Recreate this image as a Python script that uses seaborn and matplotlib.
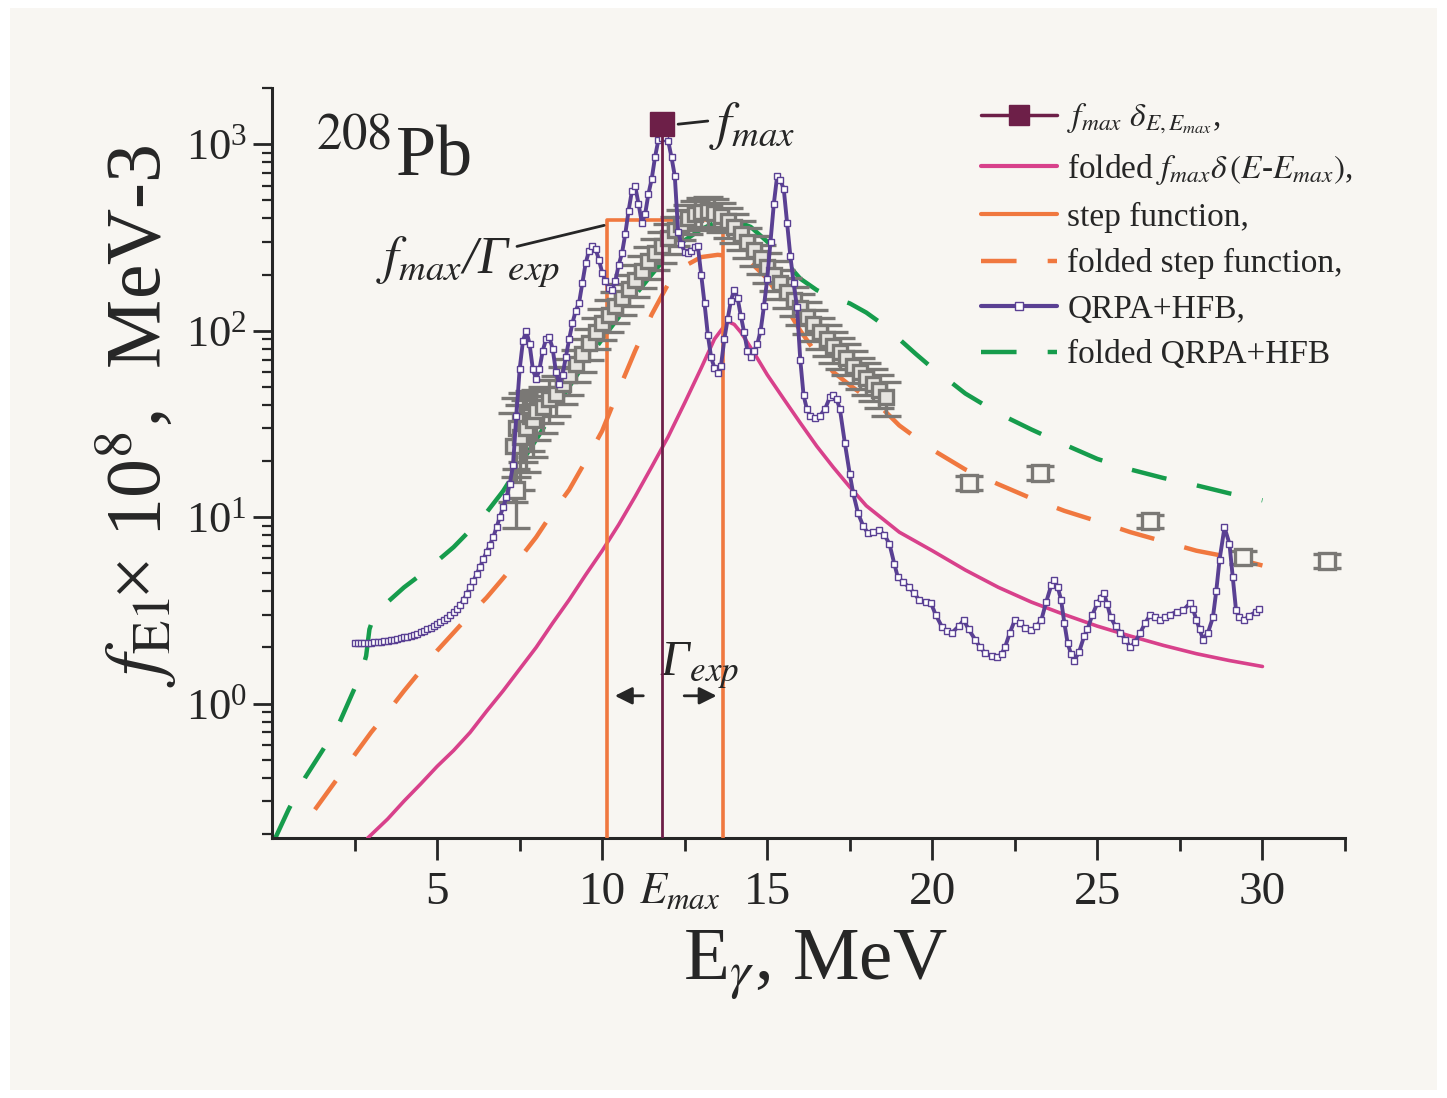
import numpy as np
import pandas as pd
import matplotlib
matplotlib.use("Agg")
import matplotlib.pyplot as plt
import seaborn as sns
from matplotlib.lines import Line2D
from matplotlib.patches import Rectangle
from matplotlib.ticker import FixedLocator, NullFormatter

sns.set_theme(style="ticks")
plt.rcParams["font.family"] = ["Liberation Serif", "DejaVu Serif"]
plt.rcParams["mathtext.fontset"] = "stix"

# ---- data (E in MeV, f_E1 x 1e8 in MeV^-3) ----
E_max = 11.8
f_max = 1280

step_E = [10.15, 10.15, 13.67, 13.67]
step_f = [0.01, 390, 390, 0.01]

pink_E = [2.9, 3.5, 4.0, 4.5, 5.0, 5.5, 6.0, 6.5, 7.0, 7.5, 8.0, 8.5, 9.0, 9.5, 10.0,
          10.5, 11.0, 11.5, 12.0, 12.5, 13.0, 13.4, 13.8, 14.0, 14.2, 14.6, 15.0, 15.5,
          16.0, 16.5, 17.0, 17.5, 18.0, 19.0, 20.0, 21.0, 22.0, 23.0, 24.0, 25.0, 26.0,
          27.0, 28.0, 29.0, 30.0]
pink_f = [0.19, 0.24, 0.30, 0.37, 0.46, 0.56, 0.70, 0.91, 1.17, 1.53, 2.0, 2.7, 3.6, 4.9, 6.6,
          9.1, 12.9, 18.6, 27, 41, 63, 90, 112, 108, 98, 76, 58, 43,
          32, 24, 18.5, 14.5, 11.5, 8.3, 6.6, 5.2, 4.2, 3.5, 3.0, 2.6, 2.3,
          2.05, 1.85, 1.7, 1.58]

fstep_E = [1.3, 2.0, 2.5, 3.0, 3.5, 4.0, 4.5, 5.0, 5.5, 6.0, 6.5, 7.0, 7.5, 8.0, 8.5, 9.0,
           9.5, 10.0, 10.5, 11.0, 11.5, 12.0, 12.5, 13.0, 13.5, 14.0, 14.5, 15.0, 15.5,
           16.0, 16.5, 17.0, 17.5, 18.0, 18.5, 19.0, 20.0, 21.0, 22.0, 23.0, 24.0, 25.0,
           26.0, 27.0, 28.0, 29.0, 30.0]
fstep_f = [0.27, 0.40, 0.53, 0.70, 0.90, 1.17, 1.5, 1.92, 2.4, 3.0, 3.7, 4.7, 6.0, 7.8, 10.6, 14,
           20, 29, 48, 78, 122, 178, 222, 248, 255, 250, 232, 190, 140,
           100, 75, 60, 51, 44, 38, 31, 23, 18, 15, 12.6, 10.8, 9.5,
           8.3, 7.4, 6.6, 6.1, 5.5]

fqrpa_E = [0.1, 0.5, 1.0, 1.5, 2.0, 2.4, 2.7, 2.85, 2.95, 3.1, 3.5, 4.0, 4.5, 5.0, 5.5, 6.0,
           6.5, 7.0, 7.5, 8.0, 8.5, 9.0, 9.5, 10.0, 10.5, 11.0, 11.5, 12.0, 12.5, 13.0,
           13.5, 14.0, 14.5, 15.0, 15.5, 16.0, 16.5, 17.0, 17.5, 18.0, 18.5, 19.0, 19.5,
           20.0, 20.5, 21.0, 22.0, 23.0, 24.0, 25.0, 26.0, 27.0, 28.0, 29.0, 30.0]
fqrpa_f = [0.19, 0.27, 0.40, 0.55, 0.76, 1.1, 1.45, 1.8, 2.5, 3.0, 3.5, 4.2, 4.9, 5.8, 6.9, 8.5,
           10.6, 13.8, 19, 26, 36, 50, 68, 90, 118, 155, 200, 255, 305, 350,
           385, 390, 360, 300, 240, 190, 165, 150, 140, 125, 108, 90, 75,
           63, 54, 46, 36, 29.5, 24.5, 20.5, 18, 16.2, 14.8, 13.4, 12.3]

qrpa_E = [2.5, 2.6, 2.7, 2.8, 2.9, 3.0, 3.1, 3.2, 3.3, 3.4, 3.5, 3.6, 3.7, 3.8, 3.9, 4.0,
          4.1, 4.2, 4.3, 4.4, 4.5, 4.6, 4.7, 4.8, 4.9, 5.0, 5.1, 5.2, 5.3, 5.4, 5.5, 5.6,
          5.7, 5.8, 5.9, 6.0, 6.1, 6.2, 6.3, 6.4, 6.5, 6.6, 6.7, 6.8, 6.9, 7.0, 7.1, 7.2,
          7.3, 7.4, 7.5, 7.6, 7.7, 7.8, 7.9, 8.0, 8.1, 8.2, 8.3, 8.4, 8.5, 8.6, 8.7, 8.8,
          8.9, 9.0, 9.1, 9.2, 9.3, 9.4, 9.5, 9.6, 9.7, 9.8, 9.9, 10.0, 10.1, 10.2, 10.3,
          10.4, 10.5, 10.6, 10.7, 10.8, 10.9, 11.0, 11.1, 11.2, 11.3, 11.4, 11.5, 11.6,
          11.7, 11.8, 11.9, 12.0, 12.1, 12.2, 12.3, 12.4, 12.5, 12.6, 12.7, 12.8, 12.9,
          13.0, 13.1, 13.2, 13.3, 13.4, 13.5, 13.6, 13.7, 13.8, 13.9, 14.0, 14.1, 14.2,
          14.3, 14.4, 14.5, 14.6, 14.7, 14.8, 14.9, 15.0, 15.1, 15.2, 15.3, 15.4, 15.5,
          15.6, 15.7, 15.8, 15.9, 16.0, 16.1, 16.2, 16.3, 16.45, 16.6, 16.75, 16.9, 17.0,
          17.1, 17.2, 17.35, 17.5, 17.6, 17.75, 17.9, 18.05, 18.2, 18.4, 18.55, 18.7,
          18.85, 18.95, 19.1, 19.3, 19.45, 19.6, 19.8, 19.96, 20.1, 20.3, 20.45, 20.6,
          20.8, 20.95, 21.1, 21.3, 21.45, 21.6, 21.8, 21.97, 22.1, 22.2, 22.35, 22.5,
          22.65, 22.8, 23.0, 23.15, 23.3, 23.45, 23.6, 23.7, 23.8, 23.9, 24.0, 24.1,
          24.2, 24.3, 24.45, 24.6, 24.7, 24.85, 25.0, 25.1, 25.2, 25.3, 25.4, 25.55,
          25.7, 25.85, 26.0, 26.15, 26.3, 26.45, 26.6, 26.75, 26.9, 27.05, 27.2, 27.4,
          27.6, 27.8, 27.9, 28.0, 28.1, 28.2, 28.35, 28.5, 28.6, 28.7, 28.85, 29.0,
          29.1, 29.2, 29.3, 29.45, 29.6, 29.8, 29.9]
qrpa_f = [2.10, 2.10, 2.10, 2.11, 2.11, 2.12, 2.13, 2.14, 2.15, 2.16, 2.17, 2.19, 2.20, 2.22, 2.24, 2.26,
          2.28, 2.31, 2.34, 2.37, 2.41, 2.45, 2.50, 2.55, 2.60, 2.66, 2.73, 2.80, 2.88, 2.98, 3.08, 3.20,
          3.38, 3.6, 3.88, 4.2, 4.55, 4.95, 5.4, 5.95, 6.5, 7.1, 7.8, 8.8, 10.0, 11.3, 12.8, 15.0,
          19, 35, 62, 88, 100, 85, 62, 55, 62, 78, 90, 92, 80, 60, 52, 58,
          72, 90, 110, 128, 141, 180, 230, 268, 283, 275, 240, 205, 185, 170, 166,
          185, 225, 260, 330, 440, 560, 595, 480, 380, 420, 540, 650, 850,
          1050, 1080, 1090, 1040, 850, 675, 340, 290, 265, 262, 268, 280, 283,
          200, 140, 95, 72, 63, 59, 65, 90, 115, 145, 166, 150, 120,
          98, 78, 72, 78, 85, 100, 135, 190, 300, 480, 675, 640, 575,
          380, 251, 180, 134, 70, 45, 38, 35, 34, 35, 38, 44, 45,
          43, 38, 25, 17, 13.5, 10.5, 9.0, 8.2, 8.3, 8.5, 8.0, 7.2,
          5.6, 4.8, 4.5, 4.2, 3.9, 3.6, 3.5, 3.45, 3.0, 2.56, 2.45, 2.4,
          2.6, 2.8, 2.5, 2.2, 2.0, 1.86, 1.8, 1.77, 1.85, 2.0, 2.4, 2.8,
          2.7, 2.55, 2.47, 2.6, 2.8, 3.5, 4.3, 4.6, 4.2, 3.6, 2.7, 2.1,
          1.85, 1.7, 1.9, 2.3, 2.5, 3.0, 3.45, 3.7, 3.9, 3.4, 2.9, 2.6,
          2.4, 2.2, 2.0, 2.15, 2.4, 2.7, 3.0, 2.9, 2.8, 2.9, 3.0, 3.1,
          3.16, 3.45, 3.2, 2.8, 2.5, 2.2, 2.4, 2.9, 4.0, 5.9, 8.8, 7.2,
          4.8, 3.16, 2.9, 2.8, 2.95, 3.1, 3.2]

exp_E = [7.3, 7.4, 7.5, 7.6, 7.7, 7.8, 7.9, 8.0, 8.2, 8.4, 8.6, 8.8, 9.0, 9.2, 9.4, 9.6,
         9.8, 10.0, 10.2, 10.4, 10.6, 10.8, 11.0, 11.2, 11.4, 11.6, 11.8, 12.0, 12.2,
         12.4, 12.6, 12.8, 13.0, 13.2, 13.4, 13.6, 13.8, 14.0, 14.2, 14.4, 14.6, 14.8,
         15.0, 15.2, 15.4, 15.6, 15.8, 16.0, 16.2, 16.4, 16.6, 16.8, 17.0, 17.2, 17.4,
         17.6, 17.8, 18.0, 18.2, 18.4, 18.6]
exp_f = [24, 30, 27, 33, 30, 35, 33, 37, 39, 43, 46, 52, 58, 66, 75, 86,
         98, 110, 122, 135, 150, 168, 188, 210, 235, 260, 285, 315, 345,
         375, 400, 420, 435, 440, 430, 410, 385, 360, 330, 300, 272, 245,
         220, 200, 180, 162, 146, 132, 119, 108, 98, 90, 83, 77, 71,
         65, 60, 56, 52, 48, 44]
exp_rel = [0.50, 0.45, 0.48, 0.40, 0.42, 0.35, 0.36, 0.30, 0.28, 0.26, 0.24, 0.22, 0.22, 0.20, 0.20, 0.19,
           0.19, 0.19, 0.19, 0.19, 0.19, 0.19, 0.19, 0.19, 0.19, 0.19, 0.19, 0.18, 0.18,
           0.18, 0.18, 0.18, 0.18, 0.18, 0.18, 0.18, 0.18, 0.18, 0.18, 0.18, 0.18, 0.18,
           0.18, 0.18, 0.18, 0.18, 0.18, 0.19, 0.19, 0.19, 0.19, 0.19, 0.19, 0.19, 0.19,
           0.19, 0.19, 0.19, 0.19, 0.20, 0.21]

exp2_E = [7.38, 21.1, 23.25, 26.6, 29.4, 31.95]
exp2_f = [14, 15.3, 17.3, 9.5, 6.1, 5.8]
exp2_lo = [5.3, 1.3, 1.5, 0.8, 0.5, 0.5]
exp2_hi = [4.2, 1.3, 1.5, 0.8, 0.5, 0.5]

# ---- colours ----
maroon = "#6d1f48"
pink = "#d8418b"
orange = "#f0783f"
purple = "#5a4093"
green = "#169c4c"
gray = "#7a7875"
ink = "#262626"
cream = "#f8f6f2"

fig = plt.figure(figsize=(14.47, 10.98), dpi=100, facecolor="white")
bg = Rectangle((0.007, 0.007), 0.986, 0.986, transform=fig.transFigure,
               facecolor=cream, edgecolor="none", zorder=-10)
fig.patches.append(bg)
ax = fig.add_axes([0.188, 0.2368, 0.7415, 0.683])
ax.set_facecolor("none")
ax.set_yscale("log")

dash = (0, (8, 7))

# folded curves
sns.lineplot(data=pd.DataFrame({"E": fqrpa_E, "f": fqrpa_f}), x="E", y="f", ax=ax,
             color=green, lw=3.2, sort=False, estimator=None, zorder=2)
ax.lines[-1].set_linestyle(dash)
sns.lineplot(data=pd.DataFrame({"E": fstep_E, "f": fstep_f}), x="E", y="f", ax=ax,
             color=orange, lw=3.2, sort=False, estimator=None, zorder=2)
ax.lines[-1].set_linestyle(dash)
sns.lineplot(data=pd.DataFrame({"E": pink_E, "f": pink_f}), x="E", y="f", ax=ax,
             color=pink, lw=2.6, sort=False, estimator=None, zorder=3)
sns.lineplot(data=pd.DataFrame({"E": step_E, "f": step_f}), x="E", y="f", ax=ax,
             color=orange, lw=2.6, sort=False, estimator=None, zorder=3)

# experiment
ax.errorbar(exp_E, exp_f, yerr=np.array(exp_rel) * np.array(exp_f), fmt="s", ms=10,
            mfc="#e6e4e0", mec=gray, mew=2.4, ecolor=gray, elinewidth=2.4,
            capsize=11, capthick=2.4, zorder=4)
ax.errorbar(exp2_E, exp2_f, yerr=[exp2_lo, exp2_hi], fmt="s", ms=11,
            mfc=cream, mec=gray, mew=2.4, ecolor=gray, elinewidth=2.4,
            capsize=10, capthick=2.4, zorder=4)

# QRPA+HFB
sns.lineplot(data=pd.DataFrame({"E": qrpa_E, "f": qrpa_f}), x="E", y="f", ax=ax,
             color=purple, lw=2.8, sort=False, estimator=None, marker="s", ms=4.5,
             mfc="white", mec=purple, mew=1.0, zorder=5)

# delta
sns.lineplot(x=[E_max, E_max], y=[0.01, f_max], ax=ax, color=maroon, lw=2.0,
             sort=False, estimator=None, zorder=6)
ax.plot([E_max], [f_max], "s", ms=17, color=maroon, mec=maroon, zorder=7)

ax.set_xlim(0, 32.5)
ax.set_ylim(0.19, 2000)

# annotations
ax.plot([12.3, 13.2], [f_max, f_max * 1.04], color=ink, lw=2, zorder=7)
ax.text(13.25, 1250, r"$f_{max}$", fontsize=38, va="center", ha="left", color=ink)
ax.plot([7.42, 10.06], [283, 367], color=ink, lw=2, zorder=7)
ax.text(5.95, 235, r"$f_{max}$/Γ$_{exp}$", fontsize=38, style="italic", va="center",
        ha="center", color=ink)
ax.text(12.95, 1.6, r"Γ$_{exp}$", fontsize=36, style="italic", va="center", ha="center",
        color=ink)
ax.annotate("", xy=(10.3, 1.1), xytext=(11.33, 1.1),
            arrowprops=dict(arrowstyle="-|>", color=ink, lw=2, mutation_scale=26))
ax.annotate("", xy=(13.55, 1.1), xytext=(12.4, 1.1),
            arrowprops=dict(arrowstyle="-|>", color=ink, lw=2, mutation_scale=26))
ax.text(0.04, 0.884, r"$^{208}$Pb", transform=ax.transAxes, fontsize=52,
        va="baseline", ha="left", color=ink)
ax.text(12.35, -0.072, r"$E_{max}$", transform=ax.get_xaxis_transform(), fontsize=32,
        va="center", ha="center", color=ink)

# axes styling
for s in ["top", "right"]:
    ax.spines[s].set_visible(False)
for s in ["left", "bottom"]:
    ax.spines[s].set_linewidth(2.2)
    ax.spines[s].set_color(ink)
ax.xaxis.set_major_locator(FixedLocator([5, 10, 15, 20, 25, 30]))
ax.xaxis.set_minor_locator(FixedLocator([2.5, 7.5, 12.5, 17.5, 22.5, 27.5, 32.5]))
ax.tick_params(axis="x", which="major", length=16, width=2, pad=8, labelsize=34, colors=ink)
ax.tick_params(axis="x", which="minor", length=9, width=2, colors=ink)
ax.tick_params(axis="y", which="major", length=14, width=2, pad=4, labelsize=32, colors=ink)
ax.tick_params(axis="y", which="minor", length=7, width=1.6, colors=ink)
ax.yaxis.set_minor_formatter(NullFormatter())
ax.set_xlabel("")
ax.set_ylabel("")

fig.text(0.5635, 0.12, r"E$_\gamma$, MeV", fontsize=54, ha="center", va="center", color=ink)
fig.text(0.094, 0.621, r"$f_{\rm E1}$$\!$× 10$^{8}$,  MeV-3", fontsize=56, rotation=90,
         ha="center", va="center", color=ink)

handles = [
    Line2D([], [], color=maroon, lw=2.5, marker="s", ms=15, mfc=maroon, mec=maroon),
    Line2D([], [], color=pink, lw=3),
    Line2D([], [], color=orange, lw=3),
    Line2D([], [], color=orange, lw=3.2, ls=dash),
    Line2D([], [], color=purple, lw=3, marker="s", ms=6, mfc="white", mec=purple),
    Line2D([], [], color=green, lw=3.2, ls=dash),
]
labels = [
    r"$f_{max}\ \delta_{E,E_{max}}$,",
    r"folded $f_{max}\delta\,(E$-$E_{max})$,",
    "step function,",
    "folded step function,",
    "QRPA+HFB,",
    "folded QRPA+HFB",
]
leg = ax.legend(handles, labels, loc="upper left", bbox_to_anchor=(0.648, 1.0),
                frameon=False, fontsize=24, handlelength=2.3, handletextpad=0.3,
                labelspacing=0.45, borderaxespad=0)
for t in leg.get_texts():
    t.set_color(ink)

fig.savefig("out.png", dpi=100, facecolor=fig.get_facecolor())
